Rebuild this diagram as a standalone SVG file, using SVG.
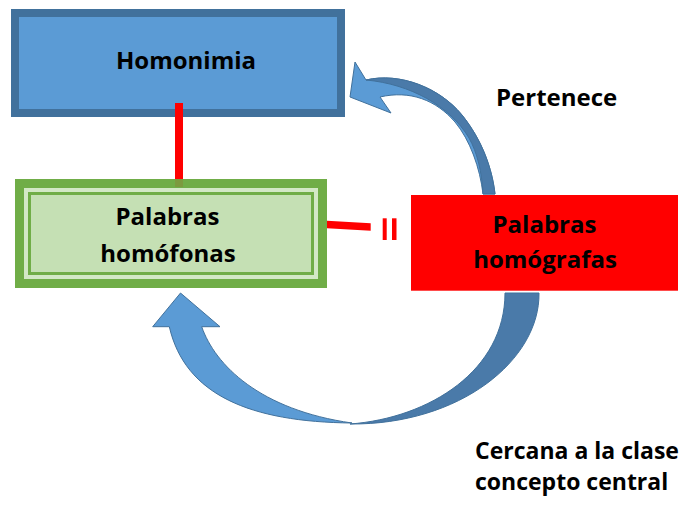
<svg xmlns="http://www.w3.org/2000/svg" width="691" height="506" viewBox="0 0 691 506">
<style>
  .t { font-family: "Open Sans", "Liberation Sans", sans-serif; font-weight: 700; font-size: 24px; fill: #000; }
  .s { font-size: 23px; }
  .c { text-anchor: middle; }
  .red { fill: #ff0000; }
  .arrowLight { fill: #5b9bd5; stroke: #41719c; stroke-width: 1; stroke-linejoin: round; }
  .arrowDark { fill: #4a7aa9; stroke: #41719c; stroke-width: 1; stroke-linejoin: round; }
</style>
<rect width="691" height="506" fill="#ffffff"/>

<g id="connectors">
  <!-- Homonimia to Palabras homófonas -->
  <rect class="red" x="175" y="103" width="8" height="77"/>
  <!-- Palabras homófonas to II -->
  <polygon class="red" points="327,220.7 370.7,223.3 370.7,230.7 327,228.3"/>
  <rect class="red" x="382.7" y="218.3" width="4" height="21.7"/>
  <rect class="red" x="392" y="218.3" width="4.5" height="21.7"/>
  <!-- Curved arrow: homógrafas to Homonimia -->
  <g id="arrow-pertenece">
    <path class="arrowLight" d="M350,97 L355,62 L366,80 C400,72 440,88 462,115 C482,140 492,168 495,194 L483,194 C480,168 470,140 455,122 C436,100 410,90 380,97 L391,113 Z"/>
    <path class="arrowDark" d="M366,80 C400,72 440,88 462,115 C482,140 492,168 495,194 L483,194 C482,172 477,152 469,138 C450,106 410,84 366,80 Z"/>
    <text class="t" x="496" y="106">Pertenece</text>
  </g>
  <!-- Curved arrow: homógrafas to homófonas -->
  <g id="arrow-cercana">
    <path class="arrowDark" d="M505,293 L539,293 C540,360 460,425 350,424 C430,418 505,370 505,293 Z"/>
    <path class="arrowLight" d="M180.5,293 L220,326.7 L201.7,326.7 C215,365 260,410 352,423 C250,422 185,395 169.3,326.7 L152.7,326.7 Z"/>
    <text class="t s" x="475" y="458.5">Cercana a la clase</text>
    <text class="t s" x="475" y="490">concepto central</text>
  </g>
</g>

<g id="homonimia">
  <rect x="15" y="13" width="326" height="100" fill="#5b9bd5" stroke="#41719c" stroke-width="8"/>
  <rect class="red" x="175" y="103" width="8" height="15"/>
  <text class="t c" x="186" y="69">Homonimia</text>
</g>

<g id="homofonas">
  <rect x="15" y="179" width="312" height="109" fill="#70ad47"/>
  <rect x="175" y="179" width="8" height="8" fill="#7c9a3f"/>
  <rect x="24" y="188" width="294" height="91" fill="#d3e8c6"/>
  <rect x="29.5" y="193.5" width="283" height="80" fill="#c5e0b4" stroke="#70ad47" stroke-width="3"/>
  <text class="t c" x="167.5" y="225">Palabras</text>
  <text class="t c" x="168" y="261.7">homófonas</text>
</g>

<g id="homografas">
  <rect x="411" y="195" width="267" height="95.7" fill="#ff0000"/>
  <text class="t c" x="544.5" y="233">Palabras</text>
  <text class="t c" x="545" y="268">homógrafas</text>
</g>
</svg>
